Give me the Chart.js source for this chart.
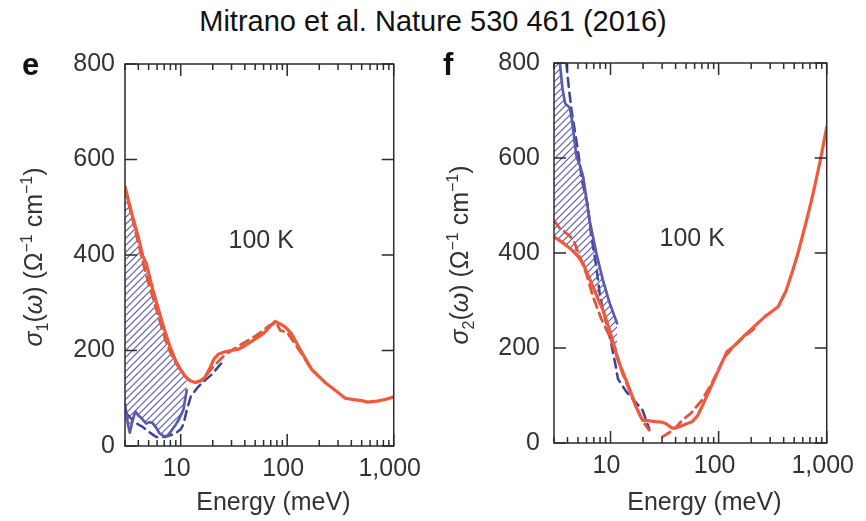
<!DOCTYPE html>
<html>
<head>
<meta charset="utf-8">
<script src="https://cdn.jsdelivr.net/npm/chart.js@4.4.1/dist/chart.umd.min.js"></script>
<style>
    body { margin: 0; background: #fff; font-family: "Liberation Sans", Arial, sans-serif; }
    .wrap { position: relative; width: 866px; height: 521px; overflow: hidden; }
    .title { position: absolute; top: 7px; left: 0; width: 866px; text-align: center;
             font-size: 29px; line-height: 29px; color: #111; }
    canvas { position: absolute; top: 0; }
    #chartE { left: 0; }
    #chartF { left: 433px; }
</style>
</head>
<body>
<div class="wrap">
    <div class="title">Mitrano et al. Nature 530 461 (2016)</div>
    <canvas id="chartE" width="433" height="521"></canvas>
    <canvas id="chartF" width="433" height="521"></canvas>
</div>

<script>
// ==========================
// DATA
// ==========================
const energyTicks = [10, 100, 1000];
const sigmaTicks = [0, 200, 400, 600, 800];

// panel e : sigma_1
const eRedE = [3.0, 3.5, 4.0, 4.4, 4.75, 5.5, 6.3, 7.0, 8.0, 9.0, 10, 11, 12, 13.6, 15, 16.8, 18.5, 20.5, 22.5, 26.5, 30, 35, 40, 50, 60, 70, 77, 85, 95, 110, 130, 170, 230, 300, 350, 420, 500, 570, 700, 850, 1000];
const eRedV = [543, 484, 438, 398, 383, 325, 280, 245, 206, 178, 160, 146, 138, 133, 135, 143, 160, 182, 192, 198, 200, 203, 210, 224, 236, 252, 261, 256, 250, 235, 205, 160, 132, 112, 100, 97, 95, 92, 94, 98, 103];

const eRedDashE = [3.0, 3.5, 4.0, 4.5, 5.0, 5.5, 6.3, 7.2, 8.0, 9.0, 10, 11, 12, 13.6, 16, 20, 25.7, 34, 51.8, 68.8, 79, 86, 100, 130, 170, 230];
const eRedDashV = [538, 478, 425, 378, 340, 310, 265, 222, 196, 174, 158, 146, 138, 133, 138, 165, 190, 208, 232, 253, 258, 242, 238, 200, 160, 132];

const eBlueE = [3.0, 3.2, 3.33, 3.55, 3.75, 4.0, 4.3, 4.75, 5.1, 5.45, 5.9, 6.3, 7.0, 7.6, 8.3, 9.0, 9.6, 10.6, 11.4];
const eBlueV = [88, 45, 28, 55, 72, 64, 58, 47, 50, 48, 38, 27, 20, 22, 34, 45, 55, 76, 117];

const eBlueDashE = [3.1, 3.5, 4.0, 4.4, 5.0, 5.9, 7.2, 8.9, 10, 10.6, 11.4, 12.5, 14.6, 17, 19.4, 22, 24];
const eBlueDashV = [68, 55, 45, 40, 30, 19, 19, 26, 35, 45, 75, 105, 124, 138, 149, 163, 173];

// panel f : sigma_2
const fRedE = [3.0, 3.5, 4.0, 4.5, 5.0, 5.57, 6.0, 6.88, 7.5, 8.5, 9.8, 11.3, 12.5, 13.9, 15.5, 17.2, 19.8, 22, 26.2, 30, 33, 37.2, 42, 50, 57, 64, 70, 85, 100, 119, 140, 175, 268, 355, 420, 480, 541, 620, 713, 800, 886, 1000];
const fRedV = [434, 424, 414, 404, 393, 378, 360, 329, 308, 280, 238, 189, 158, 133, 105, 76, 48, 47, 45, 44, 40, 31, 33, 40, 45, 58, 76, 118, 154, 192, 205, 227, 266, 287, 320, 360, 399, 450, 505, 555, 603, 665];

const fRedDashE = [3.0, 3.4, 4.2, 4.6, 5.2, 6.0, 6.88, 8.2, 9.8, 11.3, 13, 15, 17, 19, 21, 22.8, 26, 30.2, 35, 40, 46, 55, 70, 86.6, 113, 140, 175, 220];
const fRedDashV = [468, 452, 436, 424, 392, 355, 308, 262, 225, 185, 145, 110, 80, 55, 38, 27, null, 13, 22, 32, 48, 62, 90, 126, 180, 205, 225, 243];

const fBlueE = [3.0, 3.2, 3.4, 3.6, 3.8, 4.2, 4.4, 4.84, 5.2, 5.58, 6.4, 6.88, 7.4, 8.5, 9.8, 11.5];
const fBlueV = [900, 850, 800, 745, 715, 706, 680, 603, 585, 561, 469, 434, 399, 343, 295, 252];

const fBlueDashE = [3.9, 4.15, 4.36, 5.0, 5.47, 6.17, 6.6, 7.4, 7.93, 8.5, 9.8, 11, 11.7, 14, 17.2, 19.8, 22.8];
const fBlueDashV = [800, 740, 701, 615, 550, 500, 440, 370, 315, 280, 226, 170, 135, 108, 85, 69, 30];

// ==========================
// STYLE
// ==========================
const RED = "#f05a3c";
const RED_DASH = "#de553a";
const BLUE = "#5b5bab";
const BLUE_DASH = "#40409a";
const INK = "#333";
const FONT = '"Liberation Sans", Arial, sans-serif';

const points = (xs, ys) => xs.map((x, i) => ({ x, y: ys[i] }));

function hatch(color) {
    const c = document.createElement("canvas");
    c.width = 7;
    c.height = 7;
    const g = c.getContext("2d");
    g.strokeStyle = color;
    g.lineWidth = 1.2;
    g.beginPath();
    g.moveTo(0, 7); g.lineTo(7, 0);
    g.moveTo(-1, 1); g.lineTo(1, -1);
    g.moveTo(6, 8); g.lineTo(8, 6);
    g.stroke();
    return g.createPattern(c, "repeat");
}

// ==========================
// FRAME, INWARD TICKS, LABELS
// ==========================
const panelDecor = {
    id: "panelDecor",
    afterDatasetsDraw(chart) {
        const { ctx, chartArea: a, scales: { x, y } } = chart;
        ctx.save();
        ctx.strokeStyle = "#2b2b2b";
        ctx.lineWidth = 1.5;
        ctx.strokeRect(a.left, a.top, a.right - a.left, a.bottom - a.top);
        ctx.beginPath();
        sigmaTicks.forEach(v => {
            const py = y.getPixelForValue(v);
            ctx.moveTo(a.left, py); ctx.lineTo(a.left + 12, py);
            ctx.moveTo(a.right, py); ctx.lineTo(a.right - 12, py);
        });
        for (let d = 1; d <= 1000; d *= 10) {
            for (let m = 1; m < 10; m++) {
                const v = m * d;
                if (v < x.min || v > x.max) continue;
                const px = x.getPixelForValue(v);
                const len = m === 1 ? 12 : 6;
                ctx.moveTo(px, a.bottom); ctx.lineTo(px, a.bottom - len);
                ctx.moveTo(px, a.top); ctx.lineTo(px, a.top + len);
            }
        }
        ctx.stroke();
        ctx.restore();
    },
    afterDraw(chart, args, opts) {
        const { ctx, chartArea: a, scales: { x, y } } = chart;
        ctx.save();

        // panel letter
        ctx.font = `bold 31px ${FONT}`;
        ctx.fillStyle = "#111";
        ctx.textBaseline = "alphabetic";
        ctx.textAlign = "left";
        ctx.fillText(opts.letter, opts.letterX, 75);

        // temperature
        ctx.fillStyle = INK;
        ctx.font = `25px ${FONT}`;
        ctx.textAlign = "center";
        ctx.textBaseline = "middle";
        ctx.fillText("100 K", x.getPixelForValue(57), y.getPixelForValue(430));

        // x title
        ctx.fillText("Energy (meV)", (a.left + a.right) / 2 + 14, 503);

        // y title, rotated, with sub- and superscripts
        const parts = [
            { t: "σ", it: true },
            { t: opts.sub, s: 0.64, dy: 6 },
            { t: "(" },
            { t: "ω", it: true },
            { t: ") (Ω" },
            { t: "−1", s: 0.62, dy: -10 },
            { t: " cm" },
            { t: "−1", s: 0.62, dy: -10 },
            { t: ")" }
        ];
        const size = 25;
        let total = 0;
        parts.forEach(p => {
            ctx.font = `${p.it ? "italic " : ""}${Math.round(size * (p.s || 1))}px ${FONT}`;
            p.w = ctx.measureText(p.t).width;
            total += p.w;
        });
        ctx.translate(opts.yTitleX, (a.top + a.bottom) / 2 + 2);
        ctx.rotate(-Math.PI / 2);
        ctx.textAlign = "left";
        ctx.textBaseline = "alphabetic";
        let cx = -total / 2;
        parts.forEach(p => {
            ctx.font = `${p.it ? "italic " : ""}${Math.round(size * (p.s || 1))}px ${FONT}`;
            ctx.fillText(p.t, cx, p.dy || 0);
            cx += p.w;
        });
        ctx.restore();
    }
};

// ==========================
// PANELS
// ==========================
function makePanel(id, series, opts) {
    const hatchFill = hatch(BLUE);
    return new Chart(document.getElementById(id), {
        type: "line",
        data: {
            datasets: [
                {
                    data: points(series.redE, series.redV),
                    borderColor: RED, borderWidth: 3.2, fill: false
                },
                {
                    data: points(series.redDashE, series.redDashV),
                    borderColor: RED_DASH, borderWidth: 2.8, borderDash: [9, 6], fill: false
                },
                {
                    data: points(series.blueE, series.blueV),
                    borderColor: BLUE, borderWidth: 2.7,
                    fill: { target: 0 }, backgroundColor: hatchFill
                },
                {
                    data: points(series.blueDashE, series.blueDashV),
                    borderColor: BLUE_DASH, borderWidth: 2.5, borderDash: [9, 6], fill: false
                }
            ]
        },
        options: {
            responsive: false,
            animation: false,
            spanGaps: false,
            layout: { padding: { left: 0, top: opts.top, right: opts.right, bottom: 0 } },
            elements: { point: { radius: 0 }, line: { tension: 0, borderJoinStyle: "round", borderCapStyle: "round" } },
            plugins: {
                legend: { display: false },
                tooltip: { enabled: false },
                panelDecor: opts
            },
            scales: {
                x: {
                    type: "logarithmic",
                    min: 3,
                    max: 1000,
                    grid: { display: false, drawTicks: false },
                    border: { display: false },
                    afterBuildTicks: s => { s.ticks = energyTicks.map(v => ({ value: v })); },
                    afterFit: s => { s.height = opts.xHeight; },
                    ticks: {
                        padding: opts.xPad,
                        labelOffset: -4,
                        maxRotation: 0,
                        autoSkip: false,
                        color: INK,
                        font: { family: FONT, size: 25 },
                        callback: v => Number(v).toLocaleString("en-US")
                    }
                },
                y: {
                    min: 0,
                    max: 800,
                    grid: { display: false, drawTicks: false },
                    border: { display: false },
                    afterBuildTicks: s => { s.ticks = sigmaTicks.map(v => ({ value: v })); },
                    afterFit: s => { s.width = opts.yWidth; },
                    ticks: {
                        padding: opts.yPad,
                        color: INK,
                        font: { family: FONT, size: 25 }
                    }
                }
            }
        },
        plugins: [panelDecor]
    });
}

makePanel("chartE", {
    redE: eRedE, redV: eRedV,
    redDashE: eRedDashE, redDashV: eRedDashV,
    blueE: eBlueE, blueV: eBlueV,
    blueDashE: eBlueDashE, blueDashV: eBlueDashV
}, {
    letter: "e", letterX: 22, sub: "1", yTitleX: 41.5,
    top: 64, right: 33, yWidth: 125, xHeight: 75, xPad: 8, yPad: 10
});

makePanel("chartF", {
    redE: fRedE, redV: fRedV,
    redDashE: fRedDashE, redDashV: fRedDashV,
    blueE: fBlueE, blueV: fBlueV,
    blueDashE: fBlueDashE, blueDashV: fBlueDashV
}, {
    letter: "f", letterX: 10, sub: "2", yTitleX: 34.5,
    top: 63, right: 37, yWidth: 121, xHeight: 78, xPad: 8, yPad: 14
});
</script>
</body>
</html>
